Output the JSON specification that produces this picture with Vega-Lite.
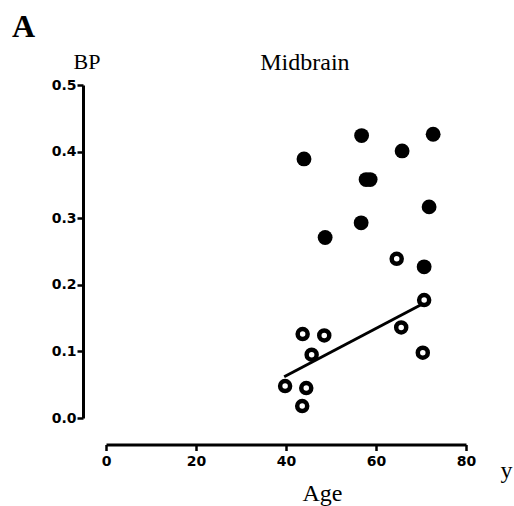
{
  "$schema": "https://vega.github.io/schema/vega-lite/v6.json",
  "width": 360,
  "height": 333,
  "autosize": {"type": "none"},
  "padding": {"left": 106, "top": 85, "right": 48, "bottom": 88},
  "background": "white",
  "title": {"text": "A", "anchor": "start", "frame": "group", "font": "Liberation Serif", "fontSize": 32, "fontWeight": "bold", "color": "black", "dx": -94, "dy": 35, "offset": 16, "baseline": "alphabetic"},
  "config": {"view": {"stroke": null}},
  "datasets": {
    "filled": [
      {"age": 44.0, "bp": 0.389},
      {"age": 56.8, "bp": 0.424},
      {"age": 65.8, "bp": 0.401},
      {"age": 72.7, "bp": 0.426},
      {"age": 57.8, "bp": 0.358},
      {"age": 58.7, "bp": 0.358},
      {"age": 71.8, "bp": 0.317},
      {"age": 56.7, "bp": 0.293},
      {"age": 48.7, "bp": 0.271},
      {"age": 70.7, "bp": 0.227}
    ],
    "open": [
      {"age": 64.6, "bp": 0.239},
      {"age": 70.7, "bp": 0.177},
      {"age": 65.6, "bp": 0.136},
      {"age": 70.4, "bp": 0.098},
      {"age": 43.7, "bp": 0.126},
      {"age": 48.5, "bp": 0.124},
      {"age": 45.7, "bp": 0.095},
      {"age": 39.8, "bp": 0.048},
      {"age": 44.5, "bp": 0.045},
      {"age": 43.6, "bp": 0.018}
    ],
    "fit": [
      {"age": 39.6, "bp": 0.062},
      {"age": 70.0, "bp": 0.170}
    ],
    "labels": [
      {"age": 44.2, "bp": 0.5225, "text": "Midbrain", "kind": "title"},
      {"age": 89.0, "bp": -0.09, "text": "y", "kind": "unit"}
    ]
  },
  "layer": [
    {
      "data": {"name": "filled"},
      "mark": {"type": "point", "shape": "circle", "filled": true, "color": "black", "size": 220, "opacity": 1},
      "encoding": {
        "x": {
          "field": "age", "type": "quantitative",
          "scale": {"domain": [0, 80], "nice": false, "zero": false},
          "axis": {
            "values": [0, 20, 40, 60, 80], "offset": 26.5, "grid": false,
            "domainColor": "black", "domainWidth": 3, "tickColor": "black", "tickWidth": 2.5, "tickSize": 6,
            "labelPadding": 4, "labelFlush": false, "labelFont": "DejaVu Sans", "labelFontWeight": "bold", "labelFontSize": 14, "labelColor": "black",
            "title": "Age", "titleFont": "Liberation Serif", "titleFontSize": 24, "titleFontWeight": "normal", "titleColor": "black",
            "titleX": 216, "titleY": 55.5, "titleAlign": "center", "titleBaseline": "alphabetic"
          }
        },
        "y": {
          "field": "bp", "type": "quantitative",
          "scale": {"domain": [0, 0.5], "nice": false, "zero": false},
          "axis": {
            "values": [0, 0.1, 0.2, 0.3, 0.4, 0.5], "format": ".1f", "offset": 23, "grid": false,
            "domainColor": "black", "domainWidth": 3, "tickColor": "black", "tickWidth": 2.5, "tickSize": 6,
            "labelPadding": 1, "labelFlush": false, "labelFont": "DejaVu Sans", "labelFontWeight": "bold", "labelFontSize": 14, "labelColor": "black",
            "title": "BP", "titleFont": "Liberation Serif", "titleFontSize": 22, "titleFontWeight": "normal", "titleColor": "black",
            "titleAngle": 0, "titleX": 3.5, "titleY": -17, "titleAlign": "center", "titleBaseline": "alphabetic"
          }
        }
      }
    },
    {
      "data": {"name": "open"},
      "mark": {"type": "point", "shape": "circle", "filled": false, "color": "black", "size": 100, "strokeWidth": 4.5, "opacity": 1},
      "encoding": {
        "x": {"field": "age", "type": "quantitative"},
        "y": {"field": "bp", "type": "quantitative"}
      }
    },
    {
      "data": {"name": "fit"},
      "mark": {"type": "line", "color": "black", "strokeWidth": 3},
      "encoding": {
        "x": {"field": "age", "type": "quantitative"},
        "y": {"field": "bp", "type": "quantitative"}
      }
    },
    {
      "data": {"name": "labels"},
      "mark": {"type": "text", "font": "Liberation Serif", "fontSize": 24, "color": "black", "align": "center", "baseline": "alphabetic"},
      "encoding": {
        "x": {"field": "age", "type": "quantitative"},
        "y": {"field": "bp", "type": "quantitative"},
        "text": {"field": "text"}
      }
    }
  ]
}
